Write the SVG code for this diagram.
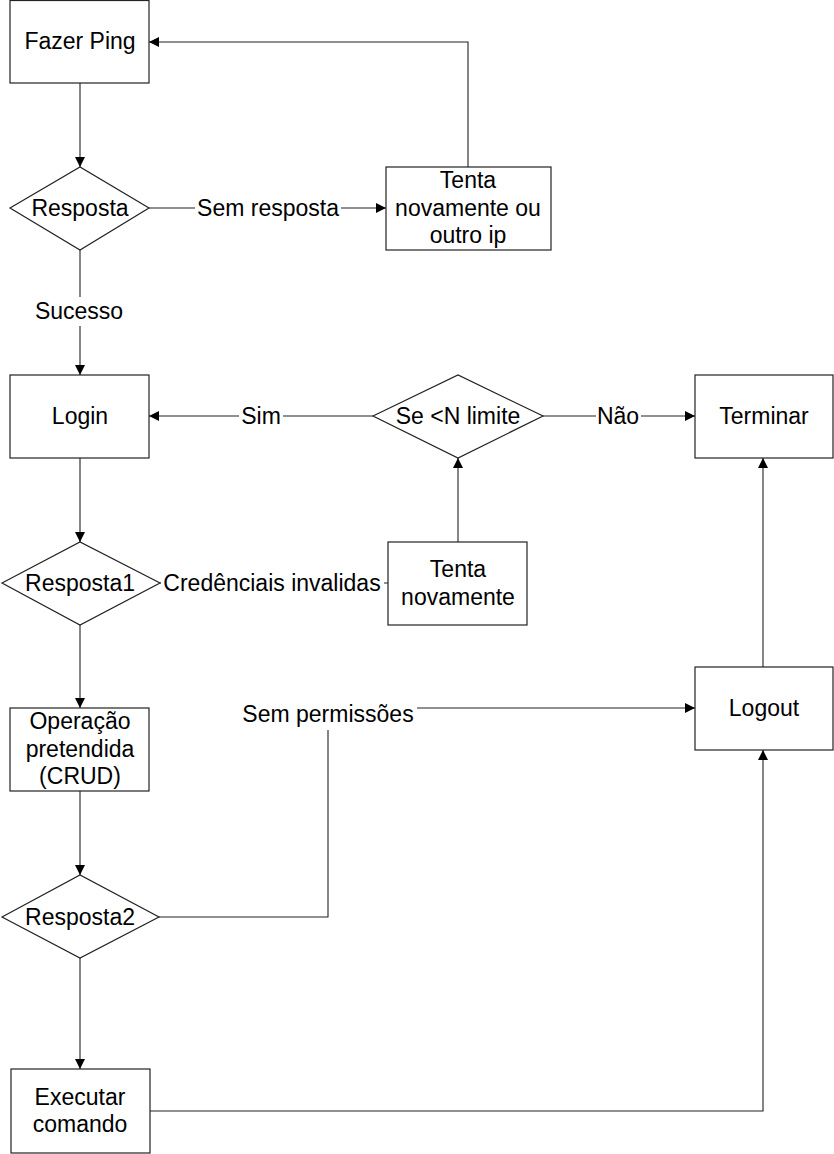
<svg xmlns="http://www.w3.org/2000/svg" width="834" height="1154" viewBox="0 0 834 1154">
  <style>
    .shape { fill: #ffffff; stroke: #222222; stroke-width: 1.2; }
    .edge { fill: none; stroke: #222222; stroke-width: 1.1; }
    .lbl-bg { fill: #ffffff; stroke: none; }
    text { font-family: "Liberation Sans", Arial, sans-serif; font-size: 23px; fill: #000000; text-anchor: middle; }
  </style>
  <defs>
    <marker id="arr" viewBox="0 0 10 10" refX="10" refY="5" markerUnits="userSpaceOnUse" markerWidth="11" markerHeight="10" orient="auto">
      <path d="M0,0 L10,5 L0,10 z" fill="#000000"/>
    </marker>
  </defs>

  <rect x="0" y="0" width="834" height="1154" fill="#ffffff"/>

  <!-- connectors -->
  <g id="connectors">
    <path class="edge" d="M80,83 V167" marker-end="url(#arr)"/>
    <path class="edge" d="M149,208 H386" marker-end="url(#arr)"/>
    <path class="edge" d="M468,167 V42 H149" marker-end="url(#arr)"/>
    <path class="edge" d="M80,250 V375" marker-end="url(#arr)"/>
    <path class="edge" d="M373,416 H149" marker-end="url(#arr)"/>
    <path class="edge" d="M543,416 H695" marker-end="url(#arr)"/>
    <path class="edge" d="M458,542 V458" marker-end="url(#arr)"/>
    <path class="edge" d="M80,458 V542" marker-end="url(#arr)"/>
    <path class="edge" d="M160,583 H388"/>
    <path class="edge" d="M80,625 V708" marker-end="url(#arr)"/>
    <path class="edge" d="M80,791 V875" marker-end="url(#arr)"/>
    <path class="edge" d="M159,917 H328 V708 H695" marker-end="url(#arr)"/>
    <path class="edge" d="M80,958 V1069" marker-end="url(#arr)"/>
    <path class="edge" d="M150,1111 H763 V750" marker-end="url(#arr)"/>
    <path class="edge" d="M763,667 V458" marker-end="url(#arr)"/>

    <!-- connector labels -->
    <rect class="lbl-bg" x="195" y="196" width="146" height="24"/>
    <text x="268" y="216">Sem resposta</text>
    <rect class="lbl-bg" x="34" y="297" width="90" height="29"/>
    <text x="79" y="319">Sucesso</text>
    <rect class="lbl-bg" x="239" y="404" width="44" height="24"/>
    <text x="261" y="424">Sim</text>
    <rect class="lbl-bg" x="596" y="404" width="45" height="24"/>
    <text x="618" y="424">Não</text>
    <rect class="lbl-bg" x="161" y="571" width="223" height="26"/>
    <text x="272" y="591">Credênciais invalidas</text>
    <rect class="lbl-bg" x="238" y="700" width="179" height="30"/>
    <text x="328" y="722">Sem permissões</text>
  </g>

  <g id="fazer-ping">
    <rect class="shape" x="10" y="0.5" width="139" height="82.5"/>
    <text x="80" y="49">Fazer Ping</text>
  </g>

  <g id="resposta">
    <polygon class="shape" points="10,208 80,167 149,208 80,250"/>
    <text x="80" y="216">Resposta</text>
  </g>

  <g id="tenta-outro-ip">
    <rect class="shape" x="386" y="167" width="165" height="83"/>
    <text x="468" y="188">Tenta</text>
    <text x="468" y="216">novamente ou</text>
    <text x="468" y="243">outro ip</text>
  </g>

  <g id="login">
    <rect class="shape" x="10" y="375" width="139" height="83"/>
    <text x="80" y="424">Login</text>
  </g>

  <g id="se-limite">
    <polygon class="shape" points="373,416 458,375 543,416 458,458"/>
    <text x="458" y="424">Se &lt;N limite</text>
  </g>

  <g id="terminar">
    <rect class="shape" x="695" y="375" width="138" height="83"/>
    <text x="764" y="424">Terminar</text>
  </g>

  <g id="resposta1">
    <polygon class="shape" points="2,583 80,542 160,583 80,625"/>
    <text x="80" y="591">Resposta1</text>
  </g>

  <g id="tenta-novamente">
    <rect class="shape" x="388" y="542" width="139" height="83"/>
    <text x="458" y="577">Tenta</text>
    <text x="458" y="605">novamente</text>
  </g>

  <g id="operacao">
    <rect class="shape" x="10" y="708" width="139" height="83"/>
    <text x="80" y="729">Operação</text>
    <text x="80" y="757">pretendida</text>
    <text x="80" y="784">(CRUD)</text>
  </g>

  <g id="logout">
    <rect class="shape" x="695" y="667" width="138" height="83"/>
    <text x="764" y="716">Logout</text>
  </g>

  <g id="resposta2">
    <polygon class="shape" points="2,917 80,875 159,917 80,958"/>
    <text x="80" y="925">Resposta2</text>
  </g>

  <g id="executar">
    <rect class="shape" x="11" y="1069" width="139" height="84"/>
    <text x="80" y="1105">Executar</text>
    <text x="80" y="1132">comando</text>
  </g>
</svg>
